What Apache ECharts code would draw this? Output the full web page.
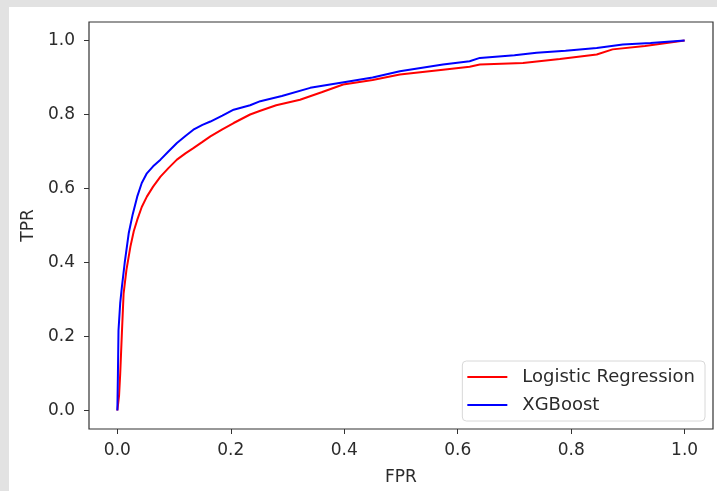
<!DOCTYPE html>
<html>
<head>
<meta charset="utf-8">
<script src="https://cdn.jsdelivr.net/npm/echarts@6/dist/echarts.min.js"></script>
<style>
html,body{margin:0;padding:0;background:#e2e2e2;}
#frame{position:absolute;left:9px;top:7px;width:708px;height:484px;background:#fff;}
#chart{position:absolute;left:0;top:0;width:717px;height:491px;}
</style>
</head>
<body>
<div id="frame"></div>
<div id="chart"></div>
<script>
const tickValues = [0, 0.2, 0.4, 0.6, 0.8, 1.0];

const lrFpr = [0, 0.003, 0.005, 0.008, 0.011, 0.016, 0.023, 0.029, 0.035, 0.043, 0.052, 0.063, 0.076, 0.09, 0.105, 0.12, 0.134, 0.15, 0.164, 0.185, 0.205, 0.234, 0.252, 0.28, 0.322, 0.36, 0.398, 0.45, 0.498, 0.574, 0.621, 0.639, 0.715, 0.78, 0.845, 0.873, 0.93, 1.0];
const lrTpr = [0, 0.04, 0.099, 0.21, 0.316, 0.38, 0.443, 0.485, 0.515, 0.55, 0.578, 0.605, 0.632, 0.655, 0.678, 0.695, 0.709, 0.726, 0.741, 0.76, 0.777, 0.80, 0.81, 0.825, 0.84, 0.86, 0.881, 0.893, 0.908, 0.921, 0.929, 0.935, 0.939, 0.95, 0.962, 0.976, 0.985, 1.0];

const xgbFpr = [0, 0.001, 0.002, 0.005, 0.008, 0.013, 0.02, 0.027, 0.035, 0.043, 0.052, 0.063, 0.076, 0.09, 0.105, 0.12, 0.134, 0.15, 0.164, 0.185, 0.205, 0.234, 0.252, 0.29, 0.34, 0.41, 0.45, 0.498, 0.574, 0.621, 0.639, 0.70, 0.739, 0.79, 0.845, 0.891, 0.94, 1.0];
const xgbTpr = [0, 0.10, 0.217, 0.29, 0.334, 0.40, 0.479, 0.53, 0.578, 0.615, 0.641, 0.66, 0.678, 0.70, 0.723, 0.742, 0.759, 0.772, 0.781, 0.797, 0.813, 0.825, 0.836, 0.85, 0.872, 0.89, 0.90, 0.917, 0.935, 0.944, 0.953, 0.96, 0.967, 0.972, 0.980, 0.989, 0.993, 1.0];

const zip = (a, b) => a.map((v, i) => [v, b[i]]);
const txt = '#2b2b2b';
const font = 'DejaVu Sans';

const axisCommon = {
  type: 'value', min: -0.05, max: 1.05,
  axisLine: {show: false, onZero: false},
  splitLine: {show: false},
  axisTick: {show: true, inside: false, length: 5, lineStyle: {color: '#333', width: 1}, customValues: tickValues},
  axisLabel: {customValues: tickValues, formatter: v => v.toFixed(1), color: txt, fontFamily: font, fontSize: 17}
};

const chart = echarts.init(document.getElementById('chart'));
chart.setOption({
  backgroundColor: 'transparent',
  animation: false,
  grid: {left: 89, right: 4, top: 22, bottom: 61, show: true, borderColor: '#333', borderWidth: 1.2, backgroundColor: 'transparent'},
  xAxis: Object.assign({}, axisCommon, {
    name: 'FPR', nameLocation: 'middle', nameGap: 40,
    nameTextStyle: {color: txt, fontFamily: font, fontSize: 17},
    axisLabel: Object.assign({}, axisCommon.axisLabel, {margin: 13})
  }),
  yAxis: Object.assign({}, axisCommon, {
    name: 'TPR', nameLocation: 'middle', nameGap: 50, nameRotate: 90,
    nameTextStyle: {color: txt, fontFamily: font, fontSize: 17},
    axisLabel: Object.assign({}, axisCommon.axisLabel, {margin: 14})
  }),
  legend: {
    orient: 'vertical', right: 12, bottom: 70,
    backgroundColor: '#fff', borderColor: '#d8d8d8', borderWidth: 1, borderRadius: 4,
    padding: [7, 10, 7, 5],
    itemWidth: 40, itemHeight: 2, itemGap: 10,
    icon: 'rect',
    textStyle: {color: txt, fontFamily: font, fontSize: 18, padding: [0, 0, 0, 10]},
    data: ['Logistic Regression', 'XGBoost']
  },
  series: [
    {name: 'Logistic Regression', type: 'line', data: zip(lrFpr, lrTpr), showSymbol: false, symbol: 'none',
     lineStyle: {color: '#ff0000', width: 2}, itemStyle: {color: '#ff0000'}},
    {name: 'XGBoost', type: 'line', data: zip(xgbFpr, xgbTpr), showSymbol: false, symbol: 'none',
     lineStyle: {color: '#0000ff', width: 2}, itemStyle: {color: '#0000ff'}}
  ]
});
</script>
</body>
</html>
